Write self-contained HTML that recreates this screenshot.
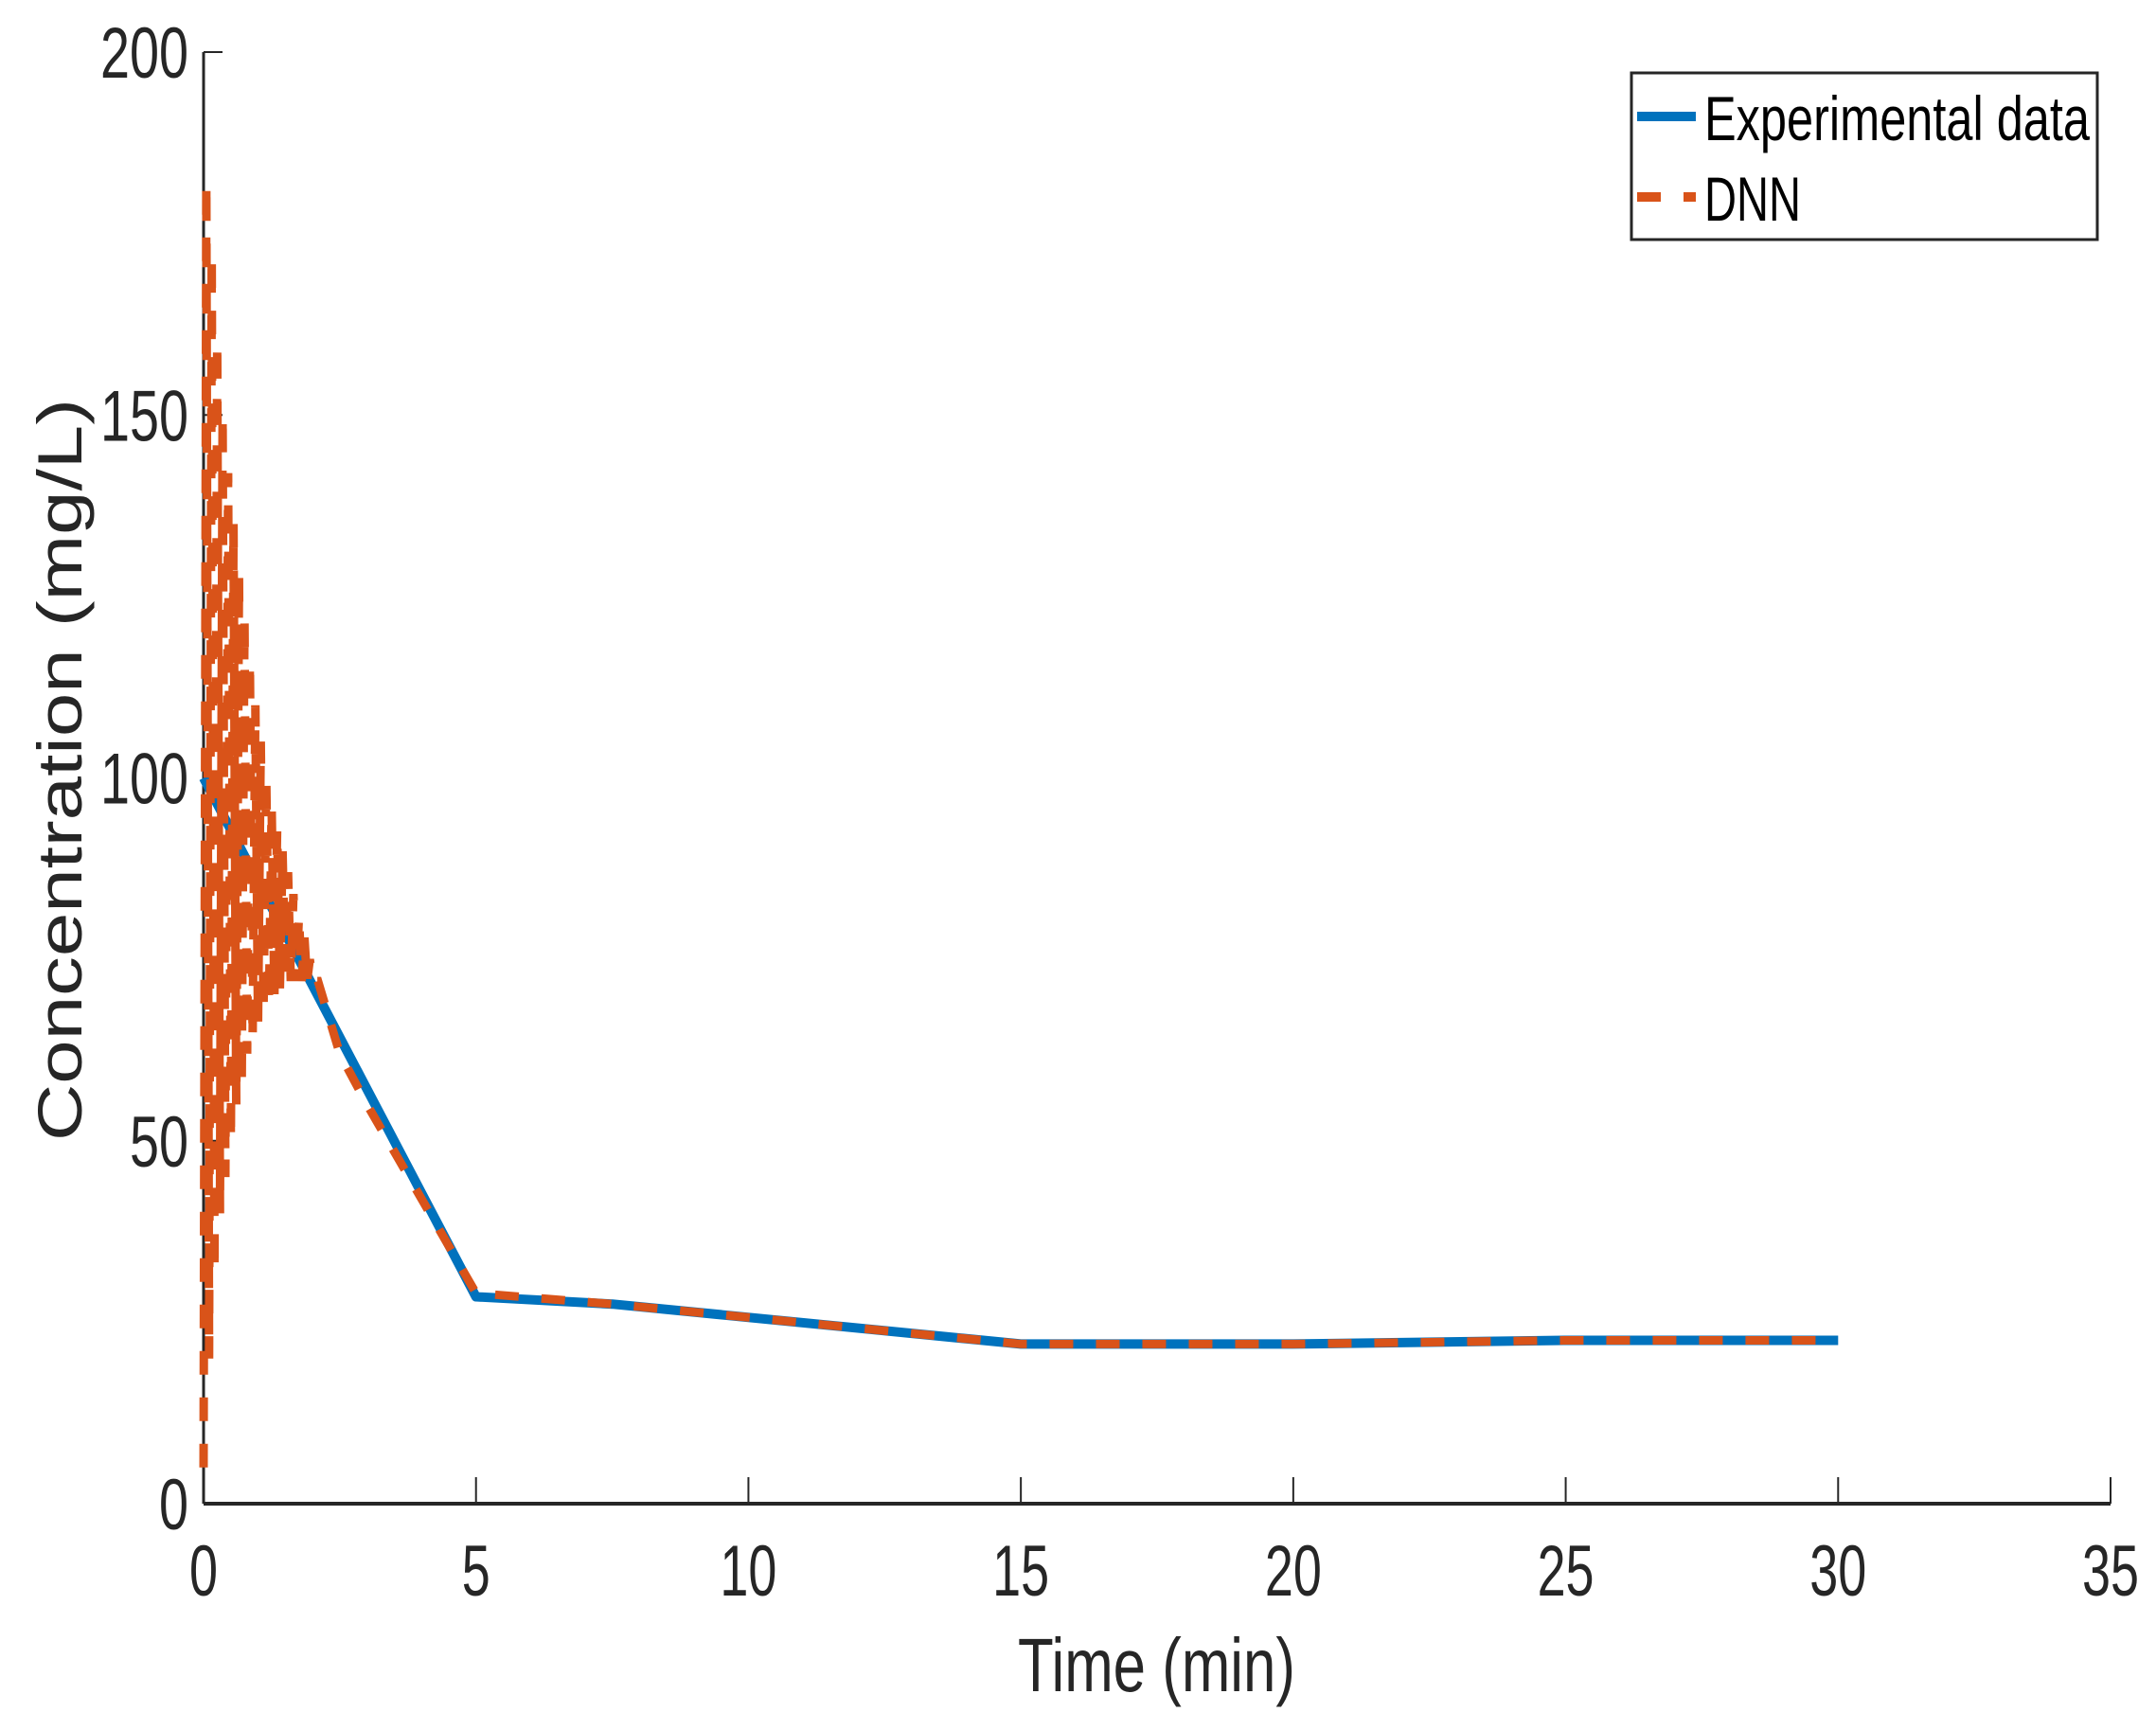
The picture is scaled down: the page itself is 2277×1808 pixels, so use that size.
<!DOCTYPE html>
<html><head><meta charset="utf-8"><style>
html,body{margin:0;padding:0;background:#fff;}
svg{display:block;}
text{font-family:"Liberation Sans",sans-serif;fill:#262626;}
</style></head><body>
<svg id="chart" width="2277" height="1808" viewBox="0 0 2277 1808" xmlns="http://www.w3.org/2000/svg">
<rect width="2277" height="1808" fill="#fff"/>
<g id="axes"></g>
<g id="series"></g>
<g id="legend">
  <rect x="1723" y="77" width="492" height="176" fill="#fff" stroke="#262626" stroke-width="3"/>
  <line x1="1729" y1="123" x2="1791" y2="123" stroke="#0072BD" stroke-width="10"/>
  <text x="1800" y="148" font-size="66" textLength="407" lengthAdjust="spacingAndGlyphs" style="fill:#000">Experimental data</text>
  <line x1="1729" y1="208" x2="1791" y2="208" stroke="#D95319" stroke-width="10" stroke-dasharray="25,24"/>
  <text x="1800" y="233" font-size="66" textLength="102" lengthAdjust="spacingAndGlyphs" style="fill:#000">DNN</text>
</g>
<text x="1075" y="1786" font-size="80" textLength="293" lengthAdjust="spacingAndGlyphs">Time (min)</text>
<text x="0" y="0" font-size="66" text-anchor="middle" transform="translate(86,813) rotate(-90)" textLength="784" lengthAdjust="spacingAndGlyphs">Concentration (mg/L)</text>
</svg>
<script>
const xTicks = [0, 5, 10, 15, 20, 25, 30, 35];
const yTicks = [0, 50, 100, 150, 200];
const expTime = [0, 5, 7.5, 15, 20, 25, 30];
const expConc = [100, 28.5, 27.5, 22, 22, 22.5, 22.5];
const dnnTime = [0,0.05,0.1,0.15,0.2,0.25,0.3,0.35,0.4,0.45,0.5,0.55,0.6,0.65,0.7,0.75,0.8,0.85,0.9,0.95,1.0,1.05,1.1,1.15,1.2,1.25,1.3,1.35,1.4,1.45,1.5,1.55,1.6,1.65,1.7,1.75,1.8,1.85,1.9,1.95,2.0,2.1,2.3,2.5,3,4,5,7.5,15,20,25,30];
const dnnConc = [5,182,20,172,32,160,40,150,45,142,50,135,55,128,58,122,62,116,64,110,66,105,68,100,69,96,70,93,71,90,72,87,72,84,72,81,72,78,72,75,72,72,67,62,55,42,29,27.5,22,22,22.5,22.5];

const X0 = 215, X1 = 2229, Y0 = 1588, Y1 = 55;
const xMin = 0, xMax = 35, yMin = 0, yMax = 200;
function sx(v){ return X0 + (v - xMin) / (xMax - xMin) * (X1 - X0); }
function sy(v){ return Y0 - (v - yMin) / (yMax - yMin) * (Y0 - Y1); }
const NS = "http://www.w3.org/2000/svg";
const axes = document.getElementById('axes');
const series = document.getElementById('series');
function mk(tag, attrs, parent){
  const e = document.createElementNS(NS, tag);
  for (const k in attrs) e.setAttribute(k, attrs[k]);
  parent.appendChild(e);
  return e;
}
let el = mk('line', {x1:X0, y1:Y0, x2:X1, y2:Y0, stroke:'#262626', 'stroke-width':4}, axes);


el = mk('line', {x1:X0, y1:Y0, x2:X0, y2:Y1, stroke:'#262626', 'stroke-width':3}, axes);


xTicks.forEach(t => {
  const x = sx(t);
  const tk = mk('line', {x1:x, y1:Y0, x2:x, y2:Y0-28, stroke:'#262626', 'stroke-width':2}, axes);
  
  
  const s = String(t);
  const lb = mk('text', {x:x, y:1685, 'font-size':76, 'text-anchor':'middle', textLength: s.length*30, lengthAdjust:'spacingAndGlyphs'}, axes);
  lb.textContent = s;
  
  
});
yTicks.forEach(t => {
  const y = sy(t);
  const tk = mk('line', {x1:X0, y1:y, x2:X0+20, y2:y, stroke:'#262626', 'stroke-width':2}, axes);
  
  
  const s = String(t);
  const lb = mk('text', {x:199, y:y+27, 'font-size':76, 'text-anchor':'end', textLength: s.length*31, lengthAdjust:'spacingAndGlyphs'}, axes);
  lb.textContent = s;
  
  
});
function pts(xs, ys){ return xs.map((t,i) => sx(t).toFixed(1) + ',' + sy(ys[i]).toFixed(1)).join(' '); }
el = mk('polyline', {points: pts(expTime, expConc), fill:'none', stroke:'#0072BD', 'stroke-width':10, 'stroke-linejoin':'round'}, series);


el = mk('polyline', {points: pts(dnnTime, dnnConc), fill:'none', stroke:'#D95319', 'stroke-width':9, 'stroke-dasharray':'25,24'}, series);


</script>
</body></html>
